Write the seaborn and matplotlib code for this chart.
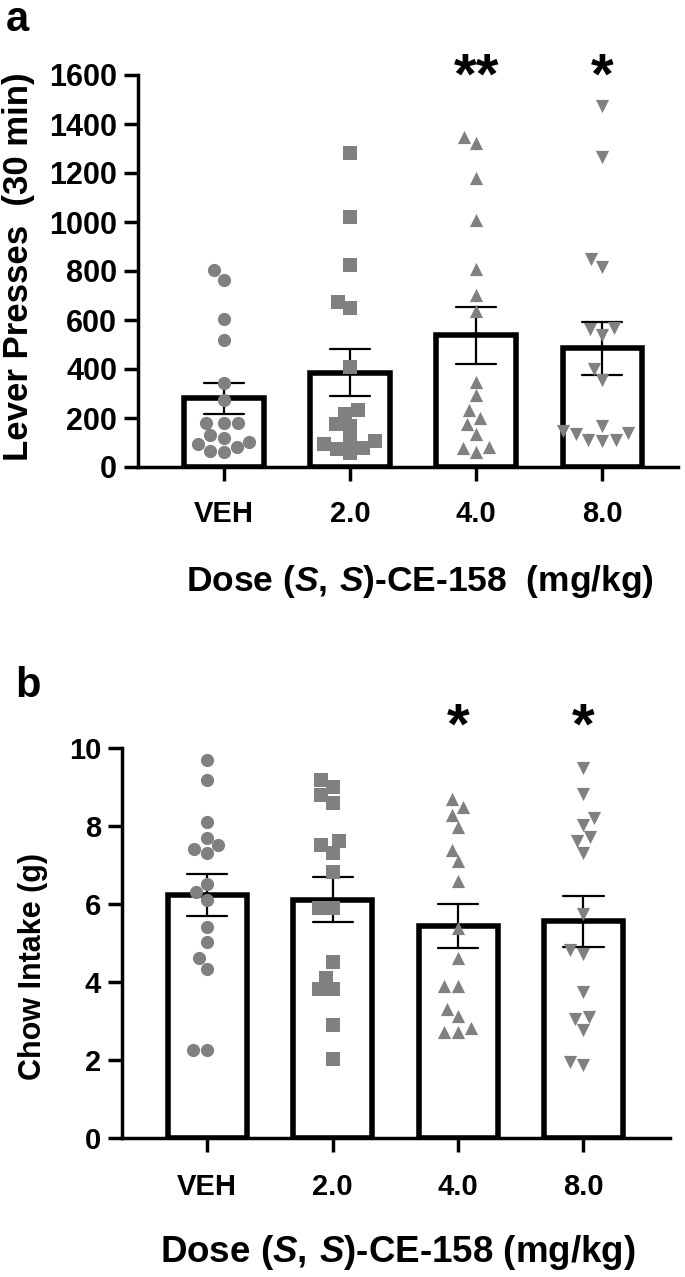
import numpy as np
import pandas as pd
import seaborn as sns
import matplotlib.pyplot as plt

sns.set_style('ticks')
plt.rcParams['font.family'] = ['Liberation Sans', 'DejaVu Sans']
plt.rcParams['font.weight'] = 'bold'
plt.rcParams['axes.labelweight'] = 'bold'
plt.rcParams['text.color'] = 'black'
plt.rcParams['axes.labelcolor'] = 'black'
plt.rcParams['xtick.color'] = 'black'
plt.rcParams['ytick.color'] = 'black'
plt.rcParams['mathtext.fontset'] = 'custom'
plt.rcParams['mathtext.rm'] = 'Liberation Sans:bold'
plt.rcParams['mathtext.it'] = 'Liberation Sans:italic:bold'

doses = ['VEH', '2.0', '4.0', '8.0']
markers = ['o', 's', '^', 'v']

# lever presses in 30 min, one value per animal
presses_veh = [803, 765, 605, 518, 341, 272, 180, 180, 180, 129, 102, 120, 82, 93, 65, 61]
presses_2 = [1283, 1021, 825, 674, 647, 408, 218, 232, 168, 174, 106, 78, 93, 72, 113, 59]
presses_4 = [1348, 1321, 1178, 1008, 810, 701, 637, 347, 293, 232, 177, 136, 82, 61, 198, 79]
presses_8 = [1473, 1264, 848, 817, 565, 569, 538, 398, 354, 168, 147, 139, 112, 136, 109, 106]
stars_presses = ['', '', '**', '*']

# chow intake (g)
chow_veh = [9.68, 9.19, 8.10, 7.70, 7.40, 7.51, 7.30, 6.51, 6.31, 6.11, 5.40, 5.02, 4.62, 4.34, 2.26, 2.25]
chow_2 = [9.19, 8.99, 8.79, 8.60, 7.62, 7.32, 7.51, 6.81, 5.91, 5.91, 4.51, 4.11, 3.81, 3.81, 2.91, 2.02]
chow_4 = [8.70, 8.49, 8.28, 7.98, 7.39, 7.09, 6.58, 5.38, 4.61, 3.91, 3.91, 3.32, 3.12, 2.81, 2.72, 2.72]
chow_8 = [9.49, 8.81, 8.21, 8.02, 7.62, 7.73, 7.32, 5.74, 4.72, 4.83, 3.75, 3.04, 3.10, 2.77, 1.96, 1.87]
stars_chow = ['', '', '*', '*']

dose_label = r'Dose $\mathit{(S,\,S)}$-CE-158'


def make_df(groups):
    """Long table with one row per animal."""
    rows = []
    for dose, vals in zip(doses, groups):
        for v in vals:
            rows.append({'Dose': dose, 'Value': v})
    return pd.DataFrame(rows)


def draw_panel(ax, df, stars, star_y, tick_size, x_tick_pad):
    sns.barplot(data=df, x='Dose', y='Value', order=doses, errorbar='se',
                color='white', edgecolor='black', linewidth=4, width=0.63,
                capsize=0.32, err_kws={'color': 'black', 'linewidth': 1.6},
                ax=ax)
    for dose, marker in zip(doses, markers):
        sns.swarmplot(data=df[df['Dose'] == dose], x='Dose', y='Value',
                      order=doses, marker=marker, color='#808080', size=9.5,
                      ax=ax, zorder=3)
    for i, s in enumerate(stars):
        if s:
            ax.text(i, star_y, s, ha='center', va='top', fontsize=42,
                    fontweight='bold', clip_on=False)
    sns.despine(ax=ax)
    for side in ['left', 'bottom']:
        ax.spines[side].set_linewidth(2.5)
        ax.spines[side].set_color('black')
    ax.tick_params(axis='both', width=2.5, length=10)
    ax.tick_params(axis='y', labelsize=tick_size, pad=5)
    ax.tick_params(axis='x', labelsize=21, pad=x_tick_pad)


fig = plt.figure(figsize=(6.85, 12.77), dpi=100)

# panel a
ax1 = fig.add_axes([138 / 685, 1 - 467 / 1277, 540 / 685, 392 / 1277])
draw_panel(ax1, make_df([presses_veh, presses_2, presses_4, presses_8]),
           stars_presses, 1694, 22, 14)
ax1.set_ylim(0, 1600)
ax1.set_yticks(np.arange(0, 1601, 200))
ax1.set_xlim(-0.68, 3.6)
ax1.set_ylabel('Lever Presses  (30 min)', fontsize=25)
ax1.set_xlabel(dose_label + '  (mg/kg)', fontsize=25.5)
ax1.yaxis.set_label_coords(-0.19, 0.51)
ax1.xaxis.set_label_coords(0.522, -0.245)

# panel b
ax2 = fig.add_axes([122 / 685, 1 - 1138 / 1277, 548 / 685, 390 / 1277])
draw_panel(ax2, make_df([chow_veh, chow_2, chow_4, chow_8]),
           stars_chow, 11.18, 21, 15)
ax2.set_ylim(0, 10)
ax2.set_yticks(np.arange(0, 11, 2))
ax2.set_xlim(-0.68, 3.69)
ax2.set_ylabel('Chow Intake (g)', fontsize=22)
ax2.set_xlabel(dose_label + ' (mg/kg)', fontsize=26.5)
ax2.yaxis.set_label_coords(-0.135, 0.44)
ax2.xaxis.set_label_coords(0.504, -0.243)

fig.text(0.008, 1.0, 'a', fontsize=30, fontweight='bold', va='top')
fig.text(0.022, 1 - 666 / 1277, 'b', fontsize=30, fontweight='bold', va='top')

fig.savefig('out.png', dpi=100)
